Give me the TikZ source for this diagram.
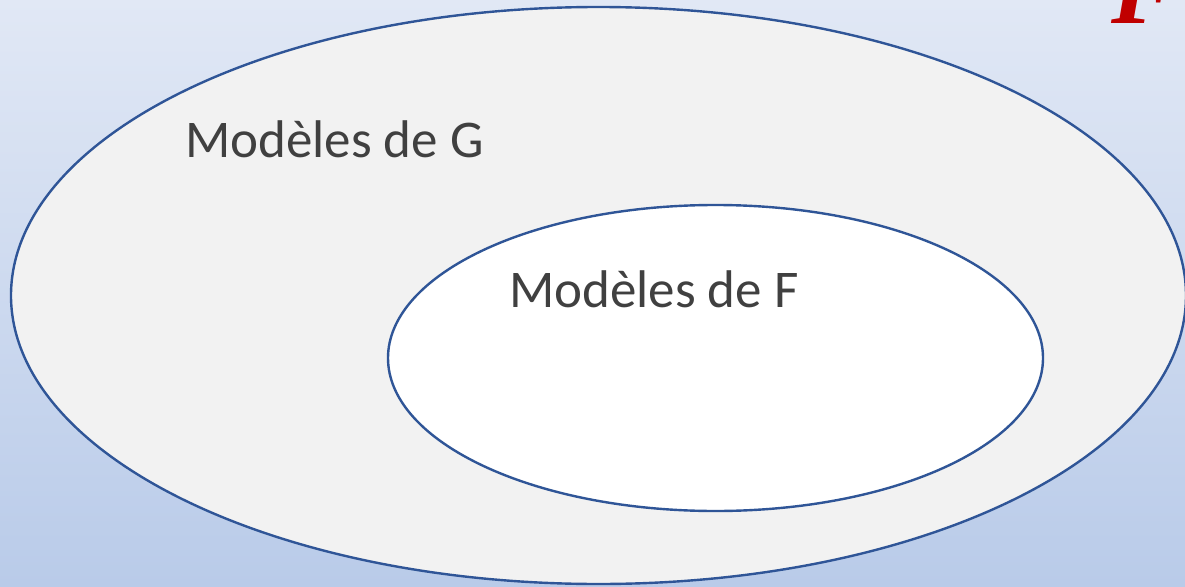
\documentclass[tikz,border=0pt]{standalone}
\usepackage{fontspec}
\setmainfont{Carlito}
\newfontfamily\serifit{Liberation Serif}
\usetikzlibrary{calc}
\definecolor{fondhaut}{HTML}{E1E8F5}
\definecolor{fondbas}{HTML}{B9CBE9}
\definecolor{trait}{HTML}{2F5597}
\definecolor{gris}{HTML}{F2F2F2}
\definecolor{texte}{HTML}{404040}
\definecolor{rouge}{HTML}{C00000}
\tikzstyle{ensemble}=[draw=trait,line width=2.4pt]
\tikzstyle{legende}=[text=texte,font=\fontsize{53}{60}\selectfont,inner sep=0pt,anchor=base west]

\begin{document}
\begin{tikzpicture}[x=1pt,y=-1pt]
	\useasboundingbox (0,0) rectangle (1185,586);
	\clip (0,0) rectangle (1185,586);
	\shade[top color=fondhaut,bottom color=fondbas] (0,0) rectangle (1185,586);

	\coordinate (G) at (598.5,295.5);
	\coordinate (F) at (715.5,358);
	\draw[ensemble,fill=gris] (G) ellipse [x radius=587.5,y radius=288.5];
	\draw[ensemble,fill=white] (F) ellipse [x radius=327.5,y radius=153];

	\node[legende] (labelG) at (185,157) {Modèles de G};
	\node[legende] (labelF) at (509,307) {Modèles de F};

	\node[text=rouge,font=\serifit\bfseries\itshape\fontsize{100}{100}\selectfont,inner sep=0pt,anchor=base west] (titre) at (1111,24) {F};
\end{tikzpicture}
\end{document}
